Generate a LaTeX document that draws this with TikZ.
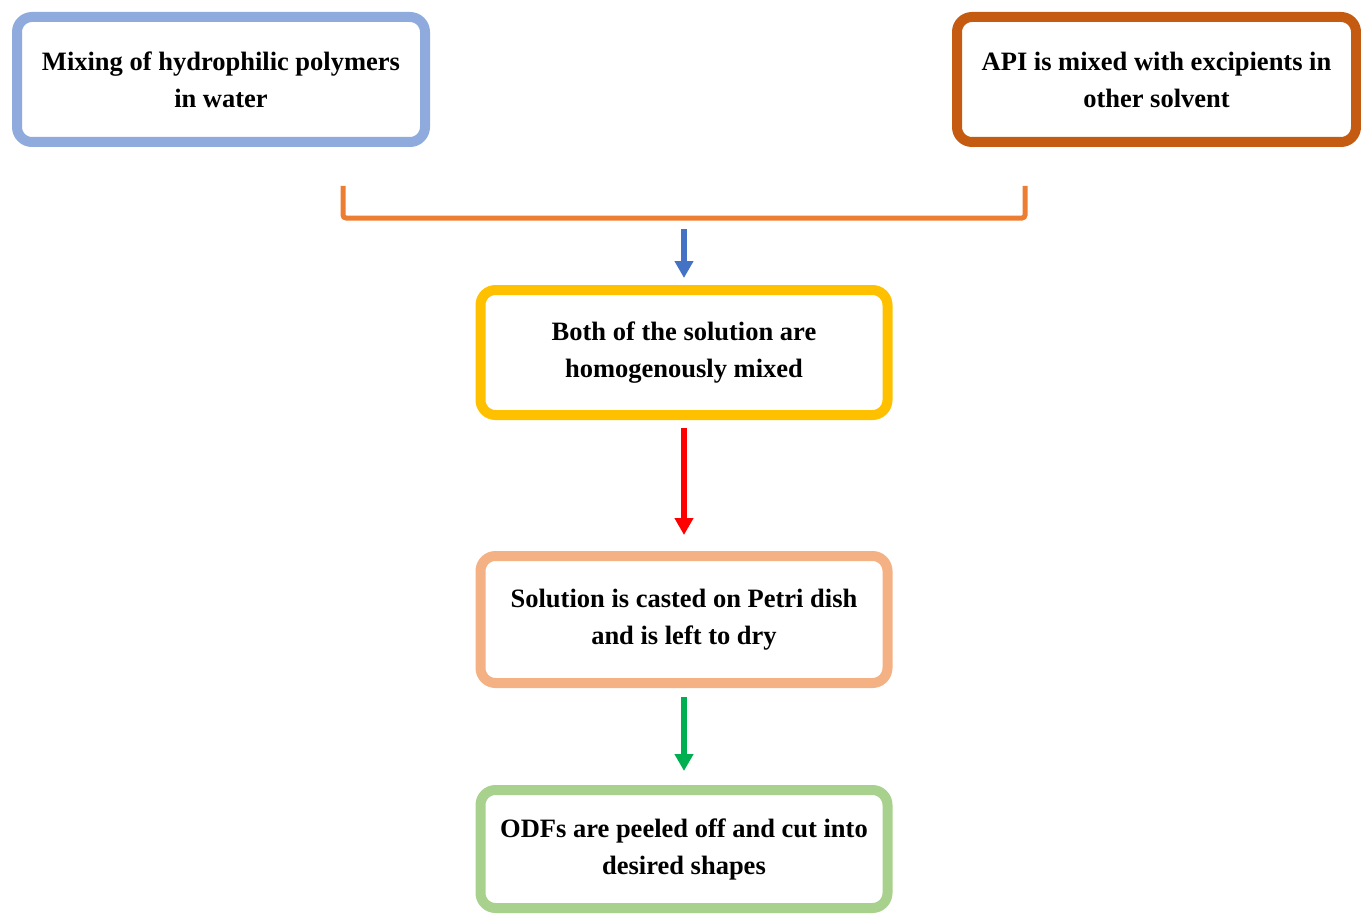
\documentclass[tikz,border=0pt]{standalone}
\usepackage{fontspec}
\setmainfont{Liberation Serif}
\usetikzlibrary{arrows.meta}
\definecolor{cblue}{HTML}{8FAADC}
\definecolor{cbrown}{HTML}{C55A11}
\definecolor{cyellow}{HTML}{FFC000}
\definecolor{cpeach}{HTML}{F4B183}
\definecolor{cgreen}{HTML}{A9D18E}
\definecolor{corange}{HTML}{ED7D31}
\definecolor{ablue}{HTML}{4472C4}
\definecolor{agreen}{HTML}{00B050}
\tikzset{
  stepbox/.style={draw, line width=10pt, rounded corners=15pt, fill=white,
    align=center, inner sep=0pt, font=\fontsize{26.5}{37}\selectfont\bfseries},
  flowarrow/.style={line width=5.5pt, -{Triangle[width=18pt,length=17pt]}},
}
\begin{document}
\begin{tikzpicture}[x=1pt,y=-1pt]
\useasboundingbox (0,0) rectangle (1361,915);
\node[stepbox, draw=cblue, minimum width=408pt, minimum height=125pt] (b1) at (221,79.5)
  {Mixing of hydrophilic polymers\\in water};
\node[stepbox, draw=cbrown, minimum width=399pt, minimum height=125pt] (b2) at (1156.5,79.5)
  {API is mixed with excipients in\\other solvent};
\node[stepbox, draw=cyellow, minimum width=407pt, minimum height=125pt] (b3) at (684,352.5)
  {Both of the solution are\\homogenously mixed};
\node[stepbox, draw=cpeach, minimum width=407pt, minimum height=127pt] (b4) at (684,619.5)
  {Solution is casted on Petri dish\\and is left to dry};
\node[stepbox, draw=cgreen, minimum width=407pt, minimum height=118pt] (b5) at (684,849)
  {ODFs are peeled off and cut into\\desired shapes};
\coordinate (bl) at (343,186);
\coordinate (br) at (1025,186);
\coordinate (bm) at (684,218);
\draw[corange, line width=5pt, rounded corners=3pt] (bl) |- (bm) -| (br);
\draw[flowarrow, ablue, shorten <=11pt, shorten >=7pt] (bm) -- (b3.north);
\draw[flowarrow, red, shorten <=8pt, shorten >=16pt] (b3.south) -- (b4.north);
\draw[flowarrow, agreen, shorten <=9pt, shorten >=14pt] (b4.south) -- (b5.north);
\end{tikzpicture}
\end{document}
